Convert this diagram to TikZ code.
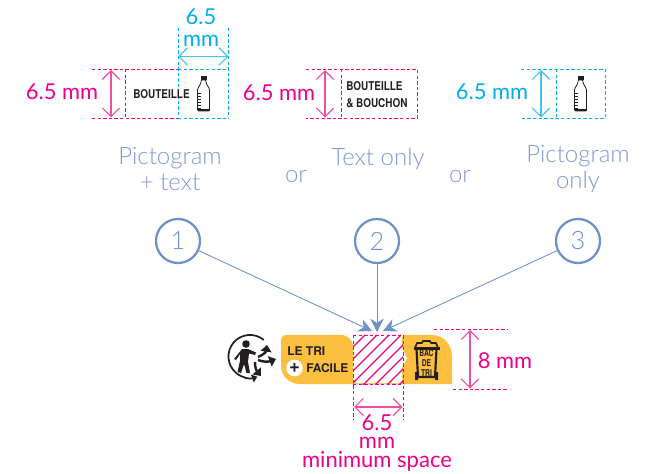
\documentclass[tikz,border=0pt]{standalone}
\usepackage{fontspec}
\setmainfont{Lato}
\setsansfont{TeX Gyre Heros}
\newfontfamily\thinfont{Lato Light}
\usetikzlibrary{arrows.meta, positioning, calc}
\definecolor{magentaink}{HTML}{EC008C}
\definecolor{pinkline}{HTML}{F0509F}
\definecolor{cyanink}{HTML}{00AEEF}
\definecolor{cyanline}{HTML}{45C3F0}
\definecolor{blueline}{HTML}{7090C8}
\definecolor{bluetext}{HTML}{7F9AD0}
\definecolor{labelorange}{HTML}{FDBF3F}
\definecolor{inkblack}{HTML}{231F20}
\newcommand{\tightfont}{\fontsize{16.5}{14}\selectfont\setlength{\lineskiplimit}{-20pt}}
\tikzset{
	bottle/.pic={
		\draw[inkblack, line width=.6pt, fill=white, rounded corners=.8pt]
			(-2.5,4) -- (-2.5,7) -- (-6,13) -- (-6,35) -- (6,35) -- (6,13) -- (2.5,7) -- (2.5,4) -- cycle;
		\fill[inkblack] (-3,0) rectangle (3,4);
		\foreach \ty in {17,20,23,26,29,32}
			\draw[inkblack, line width=.5pt] (-6,\ty) -- (-2.5,\ty);
		\fill[inkblack] (-6,33) rectangle (6,35);
	}
}
\begin{document}
\begin{tikzpicture}[
	x=0.75pt, y=-0.75pt,
	% --- STYLES ---
	pinkdash/.style={draw=magentaink, dash pattern=on 2.6pt off 1.6pt, line width=.72pt},
	cyandash/.style={draw=cyanink, dash pattern=on 2.6pt off 1.6pt, line width=.72pt},
	pinkdim/.style={draw=pinkline, line width=.9pt, {Straight Barb[length=6.5pt, width=13pt]}-{Straight Barb[length=6.5pt, width=13pt]}},
	cyandim/.style={draw=cyanline, line width=.9pt, {Straight Barb[length=6.5pt, width=13pt]}-{Straight Barb[length=6.5pt, width=13pt]}},
	pinktext/.style={text=magentaink, font=\fontsize{16.4}{16.4}\selectfont, inner sep=0pt},
	cyantext/.style={text=cyanink, font=\fontsize{16.4}{16.4}\selectfont, inner sep=0pt},
	spacetext/.style={text=magentaink, font=\tightfont, inner sep=0pt, align=center},
	choice/.style={text=bluetext, font=\thinfont\fontsize{18}{19.5}\selectfont, inner sep=0pt, align=center},
	numcircle/.style={circle, draw=blueline, line width=1.7pt, minimum size=33pt, inner sep=0pt, text=blueline, font=\thinfont\fontsize{19}{19}\selectfont},
	link/.style={draw=blueline, line width=.65pt, -{Stealth[length=10pt, width=10pt]}},
	packtext/.style={text=inkblack, font=\sffamily\bfseries\fontsize{9.1}{9.1}\selectfont, inner sep=0pt},
	labeltext/.style={text=inkblack, font=\sffamily\bfseries\fontsize{9}{9}\selectfont, inner sep=0pt}
	]
	\useasboundingbox (0,0) rectangle (654,474);
	
	% --- Option 1 ---
	\draw[pinkdash] (92,69) -- (178,69) (92,118) -- (178,118) (125,69) -- (125,118);
	\draw[cyandash] (178,28) -- (178,118) (228,28) -- (228,118) (178,69) -- (228,69) (178,118) -- (228,118);
	\coordinate (a_top) at (111,70);
	\coordinate (a_bot) at (111,117.5);
	\coordinate (w_left) at (178,56.5);
	\coordinate (w_right) at (228.5,56.5);
	\draw[pinkdim] (a_top) -- (a_bot);
	\draw[cyandim] (w_left) -- (w_right);
	\node[pinktext] (size_a) at (62,92) {6.5 mm};
	\node[cyantext] (w_num) at (201,17) {6.5};
	\node[cyantext] (w_unit) at (201,41) {mm};
	\node[packtext] (word_a) at (161.5,94) {\scalebox{.82}[1]{BOUTEILLE}};
	\pic at (203.5,76) {bottle};
	
	% --- Option 2 ---
	\draw[pinkdash] (306,69) -- (417,69) -- (417,118) -- (306,118) (341,69) -- (341,118);
	\coordinate (b_top) at (325,70);
	\coordinate (b_bot) at (325,117.5);
	\draw[pinkdim] (b_top) -- (b_bot);
	\node[pinktext] (size_b) at (279,93) {6.5 mm};
	\node[packtext, anchor=west] (word_b1) at (346,86) {\scalebox{.82}[1]{BOUTEILLE}};
	\node[packtext, anchor=west] (word_b2) at (346,103) {\scalebox{.82}[1]{\& BOUCHON}};
	
	% --- Option 3 ---
	\draw[cyandash] (521,69) -- (605,69) -- (605,118) -- (521,118) (556,69) -- (556,118);
	\coordinate (c_top) at (541,70);
	\coordinate (c_bot) at (541,117.5);
	\draw[cyandim] (c_top) -- (c_bot);
	\node[cyantext] (size_c) at (492,92) {6.5 mm};
	\pic at (580.5,76) {bottle};
	
	% --- Choices ---
	\node[choice] (pict_a) at (170,169.5) {Pictogram\\+ text};
	\node[choice] (or_a) at (296,177) {or};
	\node[choice] (text_b) at (378,158.5) {Text only};
	\node[choice] (or_b) at (460,177) {or};
	\node[choice] (pict_c) at (578,169.5) {Pictogram\\only};
	
	% --- Numbers ---
	\node[numcircle] (one) at (178,241) {1};
	\node[numcircle] (two) at (377,241) {2};
	\node[numcircle] (three) at (578,241) {3};
	
	% --- Label ---
	\fill[labelorange] (295,335) -- (432,335) .. controls (444,335) and (452,345) .. (452,357)
		-- (452,384) -- (300,384) .. controls (289,384) and (281,376) .. (281,365)
		-- (281,341) .. controls (281,337) and (283,335) .. (287,335) -- cycle;
	\fill[white] (343,335) .. controls (348,336) and (353,340) .. (353,346) -- (353,383) -- (402,383)
		-- (402,368) -- (407,358) -- (402,348) .. controls (401,342) and (402,338) .. (403,335) -- cycle;
	\begin{scope}
		\clip (353,335) rectangle (403,384);
		\foreach \hx in {353,365,...,461}
			\draw[magentaink, line width=.9pt] (\hx,335) -- (\hx-50,385);
	\end{scope}
	\draw[pinkdash] (353,335) -- (403,335) -- (403,420) (353,335) -- (353,420) (353,384) -- (403,384);
	\coordinate (s_left) at (354,407);
	\coordinate (s_right) at (402.5,407);
	\draw[pinkdim] (s_left) -- (s_right);
	\node[labeltext, anchor=west] (le_tri) at (287,351) {LE TRI};
	\node[circle, fill=white, minimum size=12.5pt, inner sep=0pt, font=\sffamily\bfseries\fontsize{14}{14}\selectfont, text=inkblack] (plus) at (294.5,368) {+};
	\node[labeltext, anchor=west] (facile) at (306,368) {FACILE};
	
	% --- Bin ---
	\draw[inkblack, line width=1.2pt, fill=labelorange, line join=round] (415,348) -- (417,343) -- (422,343) -- (423,341) -- (430,341) -- (431,343) -- (436,343) -- (438,348) -- cycle;
	\draw[inkblack, line width=1.8pt] (413.5,348.5) -- (439.5,348.5);
	\draw[inkblack, line width=1.6pt] (416.5,349) -- (418,377) -- (435,377) -- (436.5,349);
	\fill[inkblack] (415,372) rectangle (418,380) (435,372) rectangle (438,380);
	\node[inner sep=0pt, align=center, text=inkblack, font=\sffamily\bfseries\fontsize{7}{7.2}\selectfont] (bac) at (426.5,363) {\scalebox{.72}[1]{BAC}\\\scalebox{.72}[1]{DE}\\\scalebox{.72}[1]{TRI}};
	
	% --- Recycling mark ---
	\draw[inkblack, line width=1.3pt, -{Triangle[length=4pt, width=6pt]}] (263.8,340) arc[start angle=-50, end angle=-290, radius=21.5];
	\fill[inkblack] (246,344) circle (3.8);
	\fill[inkblack] (242,349) -- (248,349) -- (256,352.5) -- (255,355) -- (249,353.5) -- (248,362) -- (250,373) -- (246.5,373) -- (244,364) -- (241,373) -- (237.5,372) -- (240,361) -- (240,354) -- (236,360) -- (234,359) -- cycle;
	\draw[inkblack, line width=1.8pt, -{Triangle[length=5pt, width=8pt]}] (258,357) .. controls (263,355) and (266,352) .. (267,345);
	\draw[inkblack, line width=1.8pt, -{Triangle[length=5pt, width=8pt]}] (258,360) .. controls (263,362) and (268,362) .. (276,359);
	\draw[inkblack, line width=1.8pt, -{Triangle[length=5pt, width=8pt]}] (255,362) .. controls (255,367) and (256,370) .. (261,376);
	
	% --- Space text ---
	\node[spacetext, anchor=north] (s_text) at (377,414) {6.5\\mm\\minimum space};
	
	% --- Height of the label ---
	\draw[pinkdash] (434,329) -- (507,329) (453,389) -- (507,389);
	\coordinate (h_top) at (470,330);
	\coordinate (h_bot) at (470,388.5);
	\draw[pinkdim] (h_top) -- (h_bot);
	\node[pinktext] (h_text) at (505,361) {8 mm};
	
	% --- Connections ---
	\coordinate (hit_a) at (372,331);
	\coordinate (hit_b) at (377,332);
	\coordinate (hit_c) at (383,331);
	\draw[link] (one) -- (hit_a);
	\draw[link] (two) -- (hit_b);
	\draw[link] (three) -- (hit_c);
	
\end{tikzpicture}
\end{document}
